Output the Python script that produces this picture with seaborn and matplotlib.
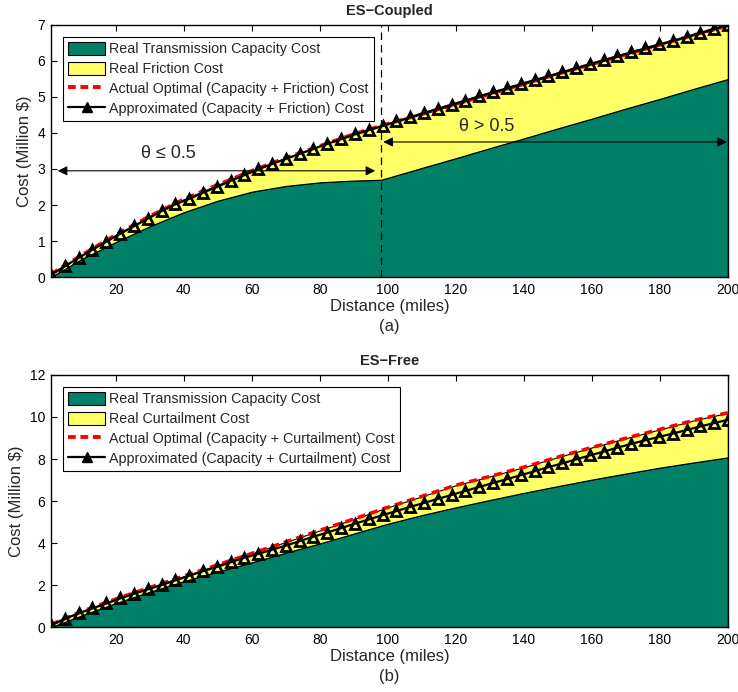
import numpy as np
import matplotlib
matplotlib.use("Agg")
import matplotlib.pyplot as plt
import seaborn as sns
from matplotlib.patches import Patch
from matplotlib.lines import Line2D

# distances (miles) where the area curves were read
dist_a = [1, 10, 20, 30, 40, 50, 60, 70, 80, 90, 98, 110, 120, 130, 140, 150, 160, 170, 180, 190, 200]
dist_b = [1, 10, 20, 30, 40, 50, 60, 70, 80, 90, 100, 110, 120, 130, 140, 150, 160, 170, 180, 190, 200]
# distances where the approximation markers sit (50 samples)
dist_marks = np.linspace(1, 200, 50)

# (a) ES-Coupled, million $
capacity_a = [0.0, 0.50, 0.97, 1.41, 1.80, 2.12, 2.37, 2.53, 2.63, 2.68, 2.70,
              3.03, 3.30, 3.58, 3.85, 4.13, 4.40, 4.68, 4.95, 5.23, 5.50]
optimal_a = [0.08, 0.61, 1.17, 1.69, 2.16, 2.56, 2.95, 3.31, 3.64, 3.97, 4.20,
             4.52, 4.80, 5.08, 5.36, 5.64, 5.91, 6.18, 6.45, 6.72, 6.98]
approx_a = [0.06, 0.30, 0.53, 0.76, 0.98, 1.20, 1.41, 1.62, 1.83, 2.02,
            2.17, 2.34, 2.50, 2.67, 2.83, 2.99, 3.14, 3.28, 3.42, 3.56,
            3.70, 3.83, 3.96, 4.08, 4.20, 4.32, 4.44, 4.56, 4.67, 4.79,
            4.90, 5.02, 5.13, 5.24, 5.36, 5.47, 5.58, 5.69, 5.80, 5.91,
            6.02, 6.13, 6.24, 6.35, 6.46, 6.56, 6.67, 6.78, 6.89, 7.00]

# (b) ES-Free, million $
capacity_b = [0.0, 0.55, 1.14, 1.68, 2.18, 2.64, 3.08, 3.54, 3.98, 4.45, 4.92,
              5.33, 5.70, 6.05, 6.39, 6.71, 7.02, 7.31, 7.59, 7.84, 8.08]
optimal_b = [0.12, 0.74, 1.33, 1.88, 2.42, 2.96, 3.50, 4.05, 4.60, 5.14, 5.70,
             6.22, 6.75, 7.17, 7.61, 8.09, 8.55, 8.99, 9.41, 9.84, 10.20]
approx_b = [0.08, 0.40, 0.65, 0.89, 1.12, 1.36, 1.58, 1.79, 2.00, 2.22,
            2.44, 2.66, 2.86, 3.08, 3.30, 3.48, 3.68, 3.88, 4.09, 4.30,
            4.50, 4.71, 4.92, 5.12, 5.33, 5.52, 5.72, 5.91, 6.10, 6.29,
            6.48, 6.67, 6.86, 7.04, 7.23, 7.42, 7.61, 7.79, 7.98, 8.17,
            8.35, 8.54, 8.72, 8.89, 9.05, 9.21, 9.38, 9.55, 9.71, 9.87]

xticks = [20, 40, 60, 80, 100, 120, 140, 160, 180, 200]

GREEN = "#008066"
YELLOW = "#FFFF66"

sns.set_style("ticks")
plt.rcParams['font.family'] = ['Liberation Sans', 'DejaVu Sans']


def draw_panel(ax, dist, capacity, optimal, approx, other, title, tag, ymax, ystep):
    ax.fill_between(dist, 0, capacity, facecolor=GREEN, edgecolor='k', linewidth=0.8, zorder=1)
    ax.fill_between(dist, capacity, optimal, facecolor=YELLOW, edgecolor='k', linewidth=0.8, zorder=1)
    sns.lineplot(x=dist, y=optimal, ax=ax, color='red', linewidth=2.6,
                 linestyle=(0, (2.2, 1.4)), zorder=3, legend=False)
    sns.lineplot(x=dist_marks, y=approx, ax=ax, color='k', linewidth=1.6,
                 marker='^', markersize=7.5, markerfacecolor='none',
                 markeredgecolor='k', markeredgewidth=2.0, zorder=4, legend=False)

    ax.set_xlim(1, 200)
    ax.set_ylim(0, ymax)
    ax.set_xticks(xticks)
    ax.set_yticks(np.arange(0, ymax + 0.1, ystep))
    ax.tick_params(direction='in', top=True, right=True, length=4, width=0.8,
                   labelsize=10, pad=4, colors='k')
    for s in ax.spines.values():
        s.set_visible(True)
        s.set_color('k')
        s.set_linewidth(1.0)
    ax.set_xlabel('Distance (miles)', fontsize=12, labelpad=2)
    ax.set_ylabel(r'Cost (Million \$)', fontsize=12, labelpad=4)
    ax.set_title(title, fontweight='bold', fontsize=10.5, pad=7.5)
    ax.text(0.5, -0.198, tag, transform=ax.transAxes, ha='center', va='center', fontsize=12)

    handles = [
        Patch(facecolor=GREEN, edgecolor='k', linewidth=0.8),
        Patch(facecolor=YELLOW, edgecolor='k', linewidth=0.8),
        Line2D([0], [0], color='red', linewidth=2.8, linestyle=(0, (2.0, 1.2))),
        Line2D([0], [0], color='k', linewidth=1.6, marker='^', markersize=7,
               markerfacecolor='k', markeredgecolor='k'),
    ]
    labels = [
        'Real Transmission Capacity Cost',
        'Real %s Cost' % other,
        'Actual Optimal (Capacity + %s) Cost' % other,
        'Approximated (Capacity + %s) Cost' % other,
    ]
    leg = ax.legend(handles, labels, loc='upper left', bbox_to_anchor=(0.0177, 0.952),
                    fancybox=False, edgecolor='k', framealpha=1, fontsize=10.3,
                    handlelength=2.6, handleheight=1.0, labelspacing=0.38,
                    borderpad=0.35, handletextpad=0.3, borderaxespad=0)
    leg.get_frame().set_linewidth(0.8)


fig = plt.figure(figsize=(7.38, 6.92), dpi=100)
ax_a = fig.add_axes([0.0691, 0.5997, 0.9173, 0.3642])
ax_b = fig.add_axes([0.0691, 0.0939, 0.9173, 0.3642])

draw_panel(ax_a, dist_a, capacity_a, optimal_a, approx_a, 'Friction', 'ES\u2212Coupled', '(a)', 7, 1)
draw_panel(ax_b, dist_b, capacity_b, optimal_b, approx_b, 'Curtailment', 'ES\u2212Free', '(b)', 12, 2)

# theta regions on the coupled case
ax_a.axvline(98, color='k', linestyle=(0, (6, 4)), linewidth=0.9, zorder=5)
ax_a.annotate('', xy=(96.3, 2.95), xytext=(3.0, 2.95),
              arrowprops=dict(arrowstyle='<|-|>', color='k', lw=0.8,
                              mutation_scale=14, shrinkA=0, shrinkB=0), zorder=6)
ax_a.annotate('', xy=(199.7, 3.75), xytext=(98.7, 3.75),
              arrowprops=dict(arrowstyle='<|-|>', color='k', lw=0.8,
                              mutation_scale=14, shrinkA=0, shrinkB=0), zorder=6)
ax_a.text(35.5, 3.43, '\u03b8 \u2264 0.5', ha='center', va='center', fontsize=13)
ax_a.text(129, 4.19, '\u03b8 > 0.5', ha='center', va='center', fontsize=13)

plt.savefig("out.png", dpi=100)
